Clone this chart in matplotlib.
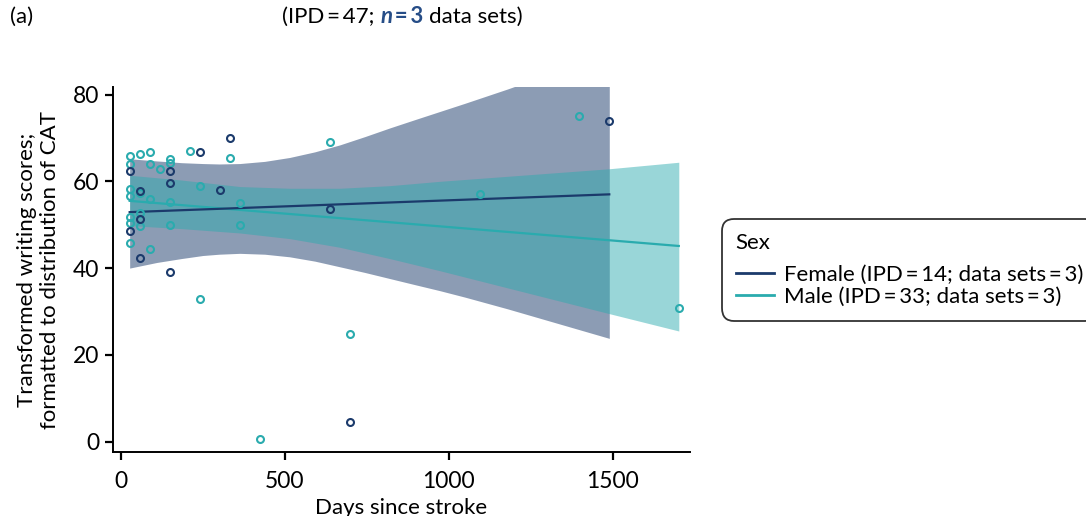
import matplotlib.pyplot as plt
from matplotlib.lines import Line2D

plt.rcParams['font.family'] = ['Lato', 'DejaVu Sans']

# scatter data (days since stroke, transformed score)
female_x = [27, 27, 60, 60, 60, 151, 151, 151, 243, 304, 334, 637, 698, 1490]
female_y = [62.3, 48.5, 57.8, 51.3, 42.4, 62.3, 59.6, 39.0, 66.8, 58.1, 70.0, 53.7, 4.6, 74.0]

male_x = [27, 27, 27, 27, 27, 27, 27,
          60, 60, 60, 60,
          90, 90, 90, 90,
          121,
          151, 151, 151, 151,
          211, 243, 243, 334, 365, 365,
          425, 637, 698, 1095, 1397, 1702]
male_y = [65.8, 63.9, 58.2, 56.6, 51.7, 50.4, 45.8,
          66.4, 57.3, 52.6, 49.7,
          66.8, 63.9, 56.0, 44.3,
          62.9,
          65.2, 64.2, 55.3, 49.9,
          66.9, 58.9, 32.8, 65.4, 54.9, 49.9,
          0.5, 69.0, 24.8, 57.0, 75.1, 30.8]

# fitted lines
female_fit_x = [27, 1490]
female_fit_y = [52.9, 57.0]
male_fit_x = [27, 1702]
male_fit_y = [55.5, 45.1]

# confidence bands
female_band_x = [27, 110, 185, 250, 300, 363, 439, 515, 592, 668, 744, 820, 896, 973, 1050, 1180, 1490]
female_band_hi = [65.2, 64.7, 64.3, 64.1, 64.0, 64.1, 64.6, 65.5, 66.8, 68.4, 70.3, 72.3, 74.2, 76.1, 78.0, 81.3, 89.6]
female_band_lo = [40.0, 41.3, 42.2, 42.9, 43.2, 43.4, 43.2, 42.6, 41.6, 40.3, 39.0, 37.6, 36.2, 34.8, 33.3, 30.6, 23.8]

male_band_x = [27, 185, 363, 515, 668, 820, 973, 1490, 1702]
male_band_hi = [61.4, 60.3, 58.8, 58.4, 58.4, 59.0, 60.0, 62.9, 64.4]
male_band_lo = [49.8, 49.1, 48.1, 46.8, 44.8, 42.2, 39.4, 29.5, 25.5]

navy = '#1b3a6b'
teal = '#2aabae'
accent = '#264d87'
fs = 16

fig = plt.figure(figsize=(10.86, 5.16), dpi=100)
ax = fig.add_axes([0.104, 0.124, 0.531, 0.707])

ax.fill_between(female_band_x, female_band_lo, female_band_hi, color=navy, alpha=0.5, lw=0, zorder=1)
ax.fill_between(male_band_x, male_band_lo, male_band_hi, color=teal, alpha=0.48, lw=0, zorder=2)
ax.plot(male_fit_x, male_fit_y, color=teal, lw=1.6, zorder=3)
ax.plot(female_fit_x, female_fit_y, color=navy, lw=1.6, zorder=3)
ax.plot(male_x, male_y, 'o', mfc='none', mec=teal, ms=5, mew=1.5, zorder=4, clip_on=False)
ax.plot(female_x, female_y, 'o', mfc='none', mec=navy, ms=5, mew=1.5, zorder=5, clip_on=False)

ax.set_xlim(-24, 1735)
ax.set_ylim(-2.4, 81.7)
ax.set_xticks([0, 500, 1000, 1500])
ax.set_yticks([0, 20, 40, 60, 80])
ax.tick_params(labelsize=16.5, length=6, width=1.6, color='black')
ax.tick_params(axis='x', pad=8)
ax.tick_params(axis='y', pad=4)
for s in ['top', 'right']:
    ax.spines[s].set_visible(False)
for s in ['left', 'bottom']:
    ax.spines[s].set_linewidth(1.4)
ax.set_xlabel('Days since stroke', fontsize=fs, labelpad=4)
ax.set_ylabel('Transformed writing scores;\nformatted to distribution of CAT', fontsize=fs, labelpad=9)

# header texts, placed piece by piece on a common baseline
fig.text(0.009, 0.955, '(a)', fontsize=fs, va='baseline')
pieces = [('(IPD\u2009=\u200947; ', 'black', 'normal', 'normal'),
          ('n', accent, 'bold', 'italic'),
          ('\u2009=\u20093 ', accent, 'bold', 'normal'),
          ('data sets)', 'black', 'normal', 'normal')]
renderer = fig.canvas.get_renderer()
xpos = 282 / 1086
for txt, col, wt, st in pieces:
    t = fig.text(xpos, 0.955, txt, fontsize=fs, va='baseline', color=col, fontweight=wt, fontstyle=st)
    bb = t.get_window_extent(renderer)
    xpos += bb.width / fig.bbox.width

handles = [Line2D([], [], color=navy, lw=2), Line2D([], [], color=teal, lw=2)]
labels = ['Female (IPD\u2009=\u200914; data sets\u2009=\u20093)',
          'Male (IPD\u2009=\u200933; data sets\u2009=\u20093)']
leg = fig.legend(handles, labels, title='Sex', loc='center left', bbox_to_anchor=(0.665, 0.477),
                 fontsize=fs, title_fontsize=fs, alignment='left', frameon=True,
                 fancybox=True, edgecolor='black', handlelength=1.75, handletextpad=0.45,
                 labelspacing=0.1, borderpad=0.6, borderaxespad=0)
leg._legend_box.sep = 9
leg.get_frame().set_linewidth(1.3)
leg.get_frame().set_boxstyle('round', pad=0, rounding_size=0.55)

fig.savefig('out.png', dpi=100)
